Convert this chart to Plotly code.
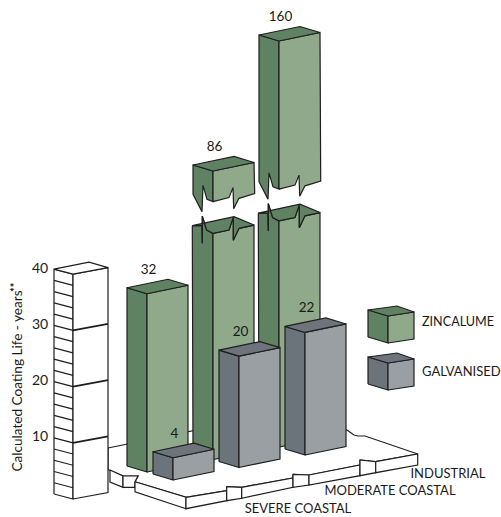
import plotly.graph_objects as go

# ---- data ----
categories = ["SEVERE COASTAL", "MODERATE COASTAL", "INDUSTRIAL"]
zincalume = [32, 86, 160]
galvanised = [4, 20, 22]
axis_ticks = [10, 20, 30, 40]
minor_ticks = [2, 4, 6, 8, 12, 14, 16, 18, 22, 24, 26, 28, 32, 34, 36, 38]
axis_title = "Calculated Coating Life - years"

# ---- projection of the isometric scene on to the page ----
UNIT = 5.57
AXIS_UNIT = 5.62
GALV_ORIGIN = (173, 480)
ZINC_ORIGIN = (147, 472)
CAT_STEP = (66, -12.5)
LEFT = (-20, -6)
RIGHT = (41, -8.5)
BACK = (21, -14.5)

BREAK_LOW, BREAK_HIGH = 40.6, 46.3      # drawn heights of the axis break
ANCHOR_VALUE, ANCHOR_DRAWN = 86, 51.8   # scale above the break
ABOVE_SCALE = 0.285


def drawn(v):
    return v if v <= BREAK_LOW else ANCHOR_DRAWN + (v - ANCHOR_VALUE) * ABOVE_SCALE


ZINC_COL = dict(left="#5f8262", right="#8fa98a", top="#5f8262")
GALV_COL = dict(left="#6c747b", right="#9a9fa3", top="#6d747c")
INK = "#1e1e1e"
FONT = "Lato"

fig = go.Figure()


def poly(pts, fill="#ffffff", width=1.2, name="", line=INK, close=True):
    xs = [p[0] for p in pts]
    ys = [p[1] for p in pts]
    if close:
        xs.append(xs[0])
        ys.append(ys[0])
    fig.add_trace(go.Scatter(
        x=xs, y=ys, mode="lines", name=name,
        fill="toself" if fill else None, fillcolor=fill,
        line=dict(color=line, width=width, shape="linear"),
        hoverinfo="skip", showlegend=False))


def at(p, d, k=1.0):
    return (p[0] + d[0] * k, p[1] + d[1] * k)


def up(p, h, unit=UNIT):
    return (p[0], p[1] - h * unit)


def box(front, h_low, h_high, col, name, left=LEFT, right=RIGHT, back=BACK, unit=UNIT):
    """Prism from drawn height h_low to h_high over the footprint at front."""
    a, b = up(front, h_low, unit), up(front, h_high, unit)
    poly([at(a, left), a, b, at(b, left)], col["left"], name=name)
    poly([a, at(a, right), at(b, right), b], col["right"], name=name)
    poly([b, at(b, left), at(b, back), at(b, right)], col["top"], name=name)


def text(x, y, s, size=13.5, anchor="middle center"):
    fig.add_trace(go.Scatter(
        x=[x], y=[y], mode="text", text=[s], textposition=anchor,
        textfont=dict(family=FONT, size=size, color="#1a1a1a"),
        hoverinfo="skip", showlegend=False))


# ---- ground slabs ----
ground = [(108, 448), (290, 411), (347, 430), (354, 435), (358, 436), (365, 436),
          (417.7, 454), (375.7, 461.7), (360, 460), (360, 465), (309, 475),
          (293, 474.3), (293, 478), (241.7, 487.3), (226.7, 486.7), (226.7, 490.7),
          (186, 497.3), (135, 481.7), (138, 476), (123, 476), (108, 469.5)]
poly(ground, name="ground")
slab_sides = [
    [(110, 470), (123, 476), (123, 487.3), (110, 482)],
    [(123, 476), (138, 476), (135, 481.7), (135, 487.3), (123, 487.3)],
    [(135, 481.7), (186, 497.3), (186, 508.7), (135, 491.7)],
    [(186, 497.3), (226.7, 490.7), (226.7, 500.7), (186, 508.7)],
    [(226.7, 486.7), (241.7, 487.3), (241.7, 498.3), (226.7, 500.7)],
    [(241.7, 487.3), (293, 478), (293, 487.3), (241.7, 498.3)],
    [(293, 474.3), (309, 475), (309, 485), (293, 487.3)],
    [(309, 475), (360, 465), (360, 475.7), (309, 485)],
    [(360, 460), (375.7, 461.7), (375.7, 472.7), (360, 475.7)],
    [(375.7, 461.7), (417.7, 454), (417.7, 465), (375.7, 472.7)],
]
for s in slab_sides:
    poly(s, name="slab")

# ---- value column that serves as the axis ----
COL_FRONT = (73, 499)
COL_L, COL_R, COL_B = (-19, -5), (35, -6.5), (16, -12)
top_tick = max(axis_ticks)
box(COL_FRONT, 0, top_tick, dict(left="#ffffff", right="#ffffff", top="#ffffff"),
    "axis", COL_L, COL_R, COL_B, AXIS_UNIT)
for v in minor_ticks + axis_ticks[:-1]:
    p = up(COL_FRONT, v, AXIS_UNIT)
    poly([at(p, COL_L), p], None, 1.2, "minor tick", close=False)
for v in axis_ticks[:-1]:
    p = up(COL_FRONT, v, AXIS_UNIT)
    poly([p, at(p, COL_R)], None, 1.8, "major tick", close=False)
for v in axis_ticks:
    p = up(COL_FRONT, v, AXIS_UNIT)
    text(p[0] - 33, p[1] - 5, str(v), 14)


# ---- bars ----
def add(p, q):
    return (p[0] + q[0], p[1] + q[1])


def broken_bar(front, v, col, name):
    h = drawn(v)
    lo = up(front, BREAK_LOW)
    hi = up(front, BREAK_HIGH)
    top = up(front, h)
    # lower stub
    wave_l = [(-20.7, -7.7), (-11, -7.7), (-10.7, 10), (-10.7, -17.3), (-6.3, -3.3), (0, 0)]
    wave_r = [(0, 0), (16, -3.3), (20.3, -16), (20.3, 7), (26, -5), (41, -8.3)]
    rim = [add(lo, d) for d in [(41, -8.3), (21, -16.7), (-20.7, -7.7)]]
    poly([add(lo, d) for d in wave_l] + [front, add(front, LEFT)], col["left"], name=name)
    poly([add(lo, d) for d in wave_r] + [add(front, RIGHT), front], col["right"], name=name)
    poly([add(lo, d) for d in wave_l] + [add(lo, d) for d in wave_r[1:]] + rim,
         col["top"], name=name)
    # upper piece
    under_l = [(-20, -7.3), (-11, 10), (-10, -16.3), (-6, -2.3), (0, 0)]
    under_r = [(0, 0), (16, -4), (20, -14), (20.7, 7), (26, -3.3), (41.7, -8)]
    poly([add(hi, d) for d in under_l] + [top, at(top, LEFT)], col["left"], name=name)
    poly([add(hi, d) for d in under_r] + [at(top, RIGHT), top], col["right"], name=name)
    poly([top, at(top, LEFT), at(top, BACK), at(top, RIGHT)], col["top"], name=name)


def value_label(front, v):
    p = up(front, drawn(v))
    text(p[0] + 1.5, p[1] - 23.5, str(v))


def spot(origin, i):
    return (origin[0] + CAT_STEP[0] * i, origin[1] + CAT_STEP[1] * i)


for i in reversed(range(len(categories))):
    f = spot(ZINC_ORIGIN, i)
    if zincalume[i] > BREAK_LOW:
        broken_bar(f, zincalume[i], ZINC_COL, "ZINCALUME")
    else:
        box(f, 0, zincalume[i], ZINC_COL, "ZINCALUME")
    value_label(f, zincalume[i])
for i in reversed(range(len(categories))):
    f = spot(GALV_ORIGIN, i)
    box(f, 0, galvanised[i], GALV_COL, "GALVANISED")
    value_label(f, galvanised[i])

# ---- category labels ----
for s, x, y in zip(categories, [298, 390, 448], [510, 492, 475]):
    text(x, y, s, 13)

# ---- legend cubes ----
LEG_L, LEG_R, LEG_B = (-20, -6), (26, -4), (9, -10)
box((388, 343), 0, 27 / UNIT, ZINC_COL, "ZINCALUME", LEG_L, LEG_R, LEG_B)
box((388, 390), 0, 27 / UNIT, GALV_COL, "GALVANISED", LEG_L, LEG_R, LEG_B)
text(422, 323, "ZINCALUME", 12.6, "middle right")
text(422, 373, "GALVANISED", 13, "middle right")

fig.add_annotation(x=16.5, y=381, xref="x", yref="y", text=axis_title, showarrow=False,
                   textangle=-90, font=dict(family=FONT, size=13.6, color="#1a1a1a"))
fig.add_annotation(x=14, y=287, xref="x", yref="y", text="<b>**</b>", showarrow=False,
                   textangle=-90, font=dict(family=FONT, size=11, color="#1a1a1a"))

fig.update_layout(
    width=501, height=517, margin=dict(l=0, r=0, t=0, b=0),
    paper_bgcolor="white", plot_bgcolor="white", showlegend=False,
    xaxis=dict(range=[0, 501], visible=False, fixedrange=True),
    yaxis=dict(range=[517, 0], visible=False, fixedrange=True),
)
fig.write_html("out.html", config=dict(displayModeBar=False),
               post_script="document.body.style.margin='0';document.body.style.overflow='hidden';")
